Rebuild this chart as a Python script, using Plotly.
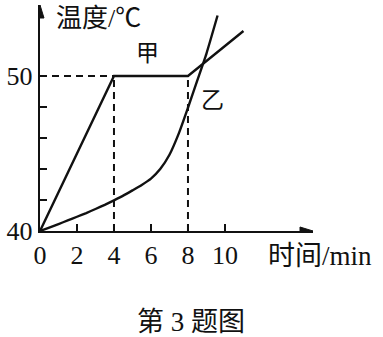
import plotly.graph_objects as go

# ---- data ----
jia_t = [0, 4, 8, 11.0]
jia_T = [40, 50, 50, 52.9]
yi_t = [0, 0.5, 1, 1.5, 2, 2.5, 3, 3.5, 4, 4.5, 5, 5.5, 6, 6.5, 7, 7.5, 8, 8.5, 9, 9.6]
yi_T = [40, 40.22, 40.45, 40.68, 40.92, 41.16, 41.42, 41.69, 41.98, 42.28, 42.62,
        42.97, 43.38, 44.0, 44.92, 46.28, 47.95, 49.7, 51.45, 53.9]
x_ticks = [0, 2, 4, 6, 8, 10]
x_tick_text = ["0", "2", "4", "6", "8", "10"]
y_ticks = [40, 42, 44, 46, 48, 50]
y_tick_text = ["40", "", "", "", "", "50"]
x_title = "时间/min"
y_title = "温度/℃"
caption = "第 3 题图"
name_jia = "甲"
name_yi = "乙"

W, H = 383, 337
ml, mr, mt, mb = 40, 70, 5, 106
xr = [0, 14.76]
yr = [40, 54.58]
pw, ph = W - ml - mr, H - mt - mb
px_x = pw / (xr[1] - xr[0])
px_y = ph / (yr[1] - yr[0])

FONT = "Liberation Serif, Noto Sans CJK SC, serif"
BLACK = "#111111"

fig = go.Figure()
fig.add_trace(go.Scatter(x=jia_t, y=jia_T, mode="lines",
                         line=dict(color=BLACK, width=2.4), showlegend=False))
fig.add_trace(go.Scatter(x=yi_t, y=yi_T, mode="lines",
                         line=dict(color=BLACK, width=2.4, shape="spline", smoothing=0.5),
                         showlegend=False))

shapes = []
dash = dict(color=BLACK, width=2, dash="7px,5px")
shapes.append(dict(type="line", x0=0, x1=jia_t[1], y0=50, y1=50, line=dash, layer="above"))
shapes.append(dict(type="line", x0=jia_t[1], x1=jia_t[1], y0=40, y1=50, line=dash, layer="above"))
shapes.append(dict(type="line", x0=jia_t[2], x1=jia_t[2], y0=40, y1=50, line=dash, layer="above"))

# arrowheads
hx = 4 / px_x
hy = 4 / px_y
ly = 13 / px_y
lx = 13 / px_x
tipy = yr[1]
shapes.append(dict(type="path",
                   path=f"M {-hx} {tipy-ly} L 0 {tipy} L {hx} {tipy-ly} Z",
                   fillcolor=BLACK, line=dict(color=BLACK, width=1), layer="above"))
tipx = xr[1]
shapes.append(dict(type="path",
                   path=f"M {tipx-lx} {40-hy} L {tipx} 40 L {tipx-lx} {40+hy} Z",
                   fillcolor=BLACK, line=dict(color=BLACK, width=1), layer="above"))

labels = [
    dict(text=y_title, x=98, y=19, size=26),
    dict(text=x_title, x=320, y=256, size=27),
    dict(text=caption, x=191, y=322, size=27),
    dict(text=name_jia, x=147, y=53, size=23),
    dict(text=name_yi, x=212, y=100, size=23),
]
ann = []
for a in labels:
    xp = (a["x"] - ml) / pw
    yp = (H - mb - a["y"]) / ph
    ann.append(dict(text=a["text"], x=xp, y=yp, xref="paper", yref="paper",
                    showarrow=False, xanchor="center", yanchor="middle",
                    font=dict(family=FONT, size=a.get("size", 25), color=BLACK)))

fig.update_layout(
    width=W, height=H,
    margin=dict(l=ml, r=mr, t=mt, b=mb, pad=0),
    paper_bgcolor="white", plot_bgcolor="white",
    shapes=shapes, annotations=ann,
    xaxis=dict(range=xr, showgrid=False, zeroline=False, showline=True,
               linecolor=BLACK, linewidth=2.4, ticks="inside", ticklen=7,
               tickwidth=2, tickcolor=BLACK, tickvals=x_ticks, ticktext=x_tick_text,
               tickfont=dict(family=FONT, size=26, color=BLACK), fixedrange=True),
    yaxis=dict(range=yr, showgrid=False, zeroline=False, showline=True,
               linecolor=BLACK, linewidth=2.4, ticks="inside", ticklen=7,
               tickwidth=2, tickcolor=BLACK, tickvals=y_ticks, ticktext=y_tick_text,
               tickfont=dict(family=FONT, size=26, color=BLACK), fixedrange=True),
)

fig.write_html("out.html", config={"displayModeBar": False})
